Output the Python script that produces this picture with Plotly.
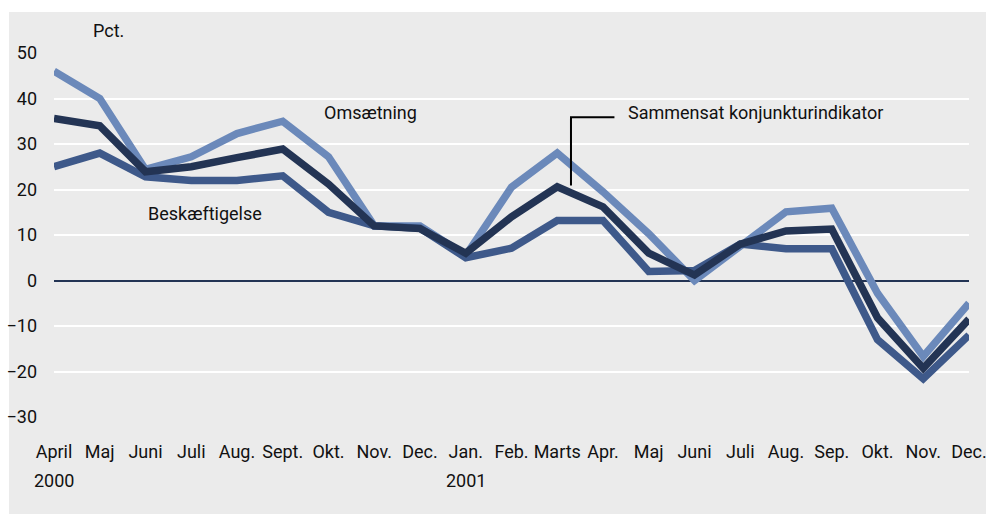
import plotly.graph_objects as go

months = ["April", "Maj", "Juni", "Juli", "Aug.", "Sept.", "Okt.", "Nov.", "Dec.",
          "Jan.", "Feb.", "Marts", "Apr.", "Maj", "Juni", "Juli", "Aug.", "Sep.",
          "Okt.", "Nov.", "Dec."]
years = {0: "2000", 9: "2001"}

omsaetning = [46, 40, 24.4, 27.2, 32.3, 35, 27.2, 12, 12, 5.5, 20.5, 28, 19.5, 10.3,
              0, 7.8, 15.1, 15.9, -2.8, -16.7, -5]
sammensat = [35.6, 34, 23.9, 25, 27, 28.9, 21.2, 12, 11.4, 6, 14, 20.6, 16.2, 6,
             1.2, 8, 10.9, 11.3, -8.2, -19.3, -8.5]
beskaeftigelse = [25, 28, 22.8, 22, 22, 23, 15, 12, 11.5, 5, 7.1, 13.2, 13.2, 2,
                  2.2, 8, 7, 7, -13, -21.6, -12]

yticks = [50, 40, 30, 20, 10, 0, -10, -20, -30]

c_light = "#6b89ba"
c_mid = "#3e598a"
c_dark = "#233454"
font = "Liberation Sans Narrow, Roboto, Noto Sans, sans-serif"

x = list(range(len(months)))

fig = go.Figure()
for vals, col in [(omsaetning, c_light), (beskaeftigelse, c_mid), (sammensat, c_dark)]:
    fig.add_trace(go.Scatter(x=x, y=vals, mode="lines",
                             line=dict(color=col, width=7.5), hoverinfo="skip",
                             showlegend=False))

fig.update_layout(
    width=986, height=514,
    margin=dict(l=54, r=17, t=53, b=97),
    paper_bgcolor="white",
    plot_bgcolor="#dddddd",
    font=dict(family=font, size=18, color="#111111"),
    shapes=[
        dict(type="rect", xref="paper", yref="paper", layer="below",
             x0=-45/915, x1=1 + 17/915, y0=-97/364, y1=1 + 41/364,
             fillcolor="#ebebeb", line=dict(width=0)),
        dict(type="path", xref="x", yref="y",
             path="M 12.25 35.9 L 11.3 35.9 L 11.3 20.9",
             line=dict(color="black", width=2)),
    ],
    annotations=[
        dict(text="Pct.", xref="paper", yref="paper", x=(91 - 54) / 915, y=1 + 22 / 364,
             xanchor="left", yanchor="middle", showarrow=False),
        dict(text="Omsætning", xref="x", yref="y", x=5.85, y=36.9,
             xanchor="left", yanchor="middle", showarrow=False),
        dict(text="Beskæftigelse", xref="x", yref="y", x=2.0, y=14.8,
             xanchor="left", yanchor="middle", showarrow=False),
        dict(text="Sammensat konjunkturindikator", xref="x", yref="y", x=12.5, y=36.9,
             xanchor="left", yanchor="middle", showarrow=False),
    ] + [
        dict(text=t, xref="x", yref="paper", x=i, y=-63 / 364, xanchor="center",
             yanchor="middle", showarrow=False) for i, t in years.items()
    ],
)

fig.update_xaxes(range=[0, 20], tickmode="array", tickvals=x, ticktext=months,
                 showgrid=False, zeroline=False, showline=False, ticks="",
                 ticklabelstandoff=22, ticklabeloverflow="allow", automargin=False,
                 fixedrange=True)
fig.update_yaxes(range=[-30, 50], tickmode="array", tickvals=yticks,
                 showgrid=True, gridcolor="white", gridwidth=2,
                 zeroline=True, zerolinecolor=c_dark, zerolinewidth=2,
                 showline=False, ticks="", ticklabelstandoff=16, automargin=False,
                 fixedrange=True)

fig.write_html("out.html", config={"displayModeBar": False},
               post_script="document.body.style.margin='0';document.body.style.overflow='hidden';")
